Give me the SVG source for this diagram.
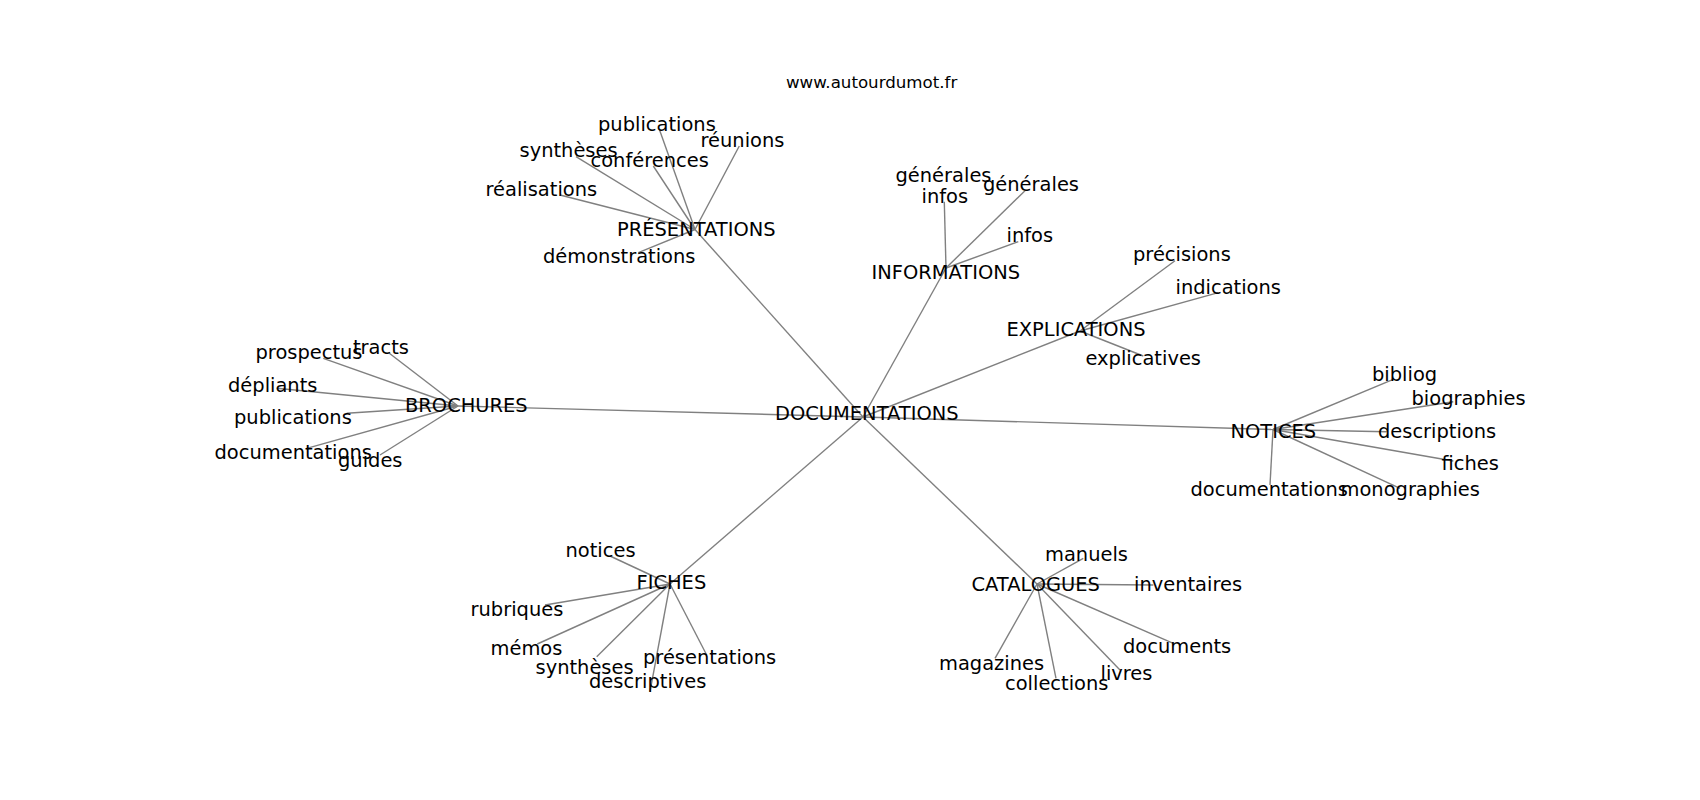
<svg xmlns="http://www.w3.org/2000/svg" width="1700" height="800" viewBox="0 0 1700 800">
<style>
text{font-family:"DejaVu Sans","Liberation Sans",sans-serif;fill:#000;font-size:19.44px}
.t{font-size:16.67px}
#edges line{stroke:#808080;stroke-width:1.4}
</style>
<rect width="1700" height="800" fill="#fff"/>
<text class="t" x="786" y="87.8">www.autourdumot.fr</text>
<g id="edges">
<line x1="863" y1="417" x2="695" y2="229.5"/>
<line x1="863" y1="417" x2="946" y2="268"/>
<line x1="863" y1="417" x2="1080" y2="331"/>
<line x1="863" y1="417" x2="458" y2="406"/>
<line x1="863" y1="417" x2="1273" y2="429.5"/>
<line x1="863" y1="417" x2="670" y2="584"/>
<line x1="863" y1="417" x2="1037" y2="584"/>
<line x1="695" y1="229.5" x2="659.3" y2="129.3"/>
<line x1="695" y1="229.5" x2="739.3" y2="146"/>
<line x1="695" y1="229.5" x2="576" y2="156.7"/>
<line x1="695" y1="229.5" x2="653.3" y2="166"/>
<line x1="695" y1="229.5" x2="560" y2="195"/>
<line x1="695" y1="229.5" x2="638.3" y2="252.7"/>
<line x1="946" y1="268" x2="944.3" y2="201.7"/>
<line x1="946" y1="268" x2="1025" y2="190.7"/>
<line x1="946" y1="268" x2="1018.3" y2="241.7"/>
<line x1="1080" y1="331" x2="1175" y2="260.7"/>
<line x1="1080" y1="331" x2="1218.3" y2="292.7"/>
<line x1="1080" y1="331" x2="1143.3" y2="356"/>
<line x1="458" y1="406" x2="389.3" y2="353.3"/>
<line x1="458" y1="406" x2="323.3" y2="358.3"/>
<line x1="458" y1="406" x2="276.7" y2="388.3"/>
<line x1="458" y1="406" x2="346.7" y2="413.3"/>
<line x1="458" y1="406" x2="306.7" y2="448.3"/>
<line x1="458" y1="406" x2="380" y2="455"/>
<line x1="1273" y1="429.5" x2="1393.3" y2="379.3"/>
<line x1="1273" y1="429.5" x2="1453.3" y2="401.7"/>
<line x1="1273" y1="429.5" x2="1386.7" y2="431.7"/>
<line x1="1273" y1="429.5" x2="1453.3" y2="461"/>
<line x1="1273" y1="429.5" x2="1400" y2="488.3"/>
<line x1="1273" y1="429.5" x2="1270" y2="485"/>
<line x1="670" y1="584" x2="610" y2="556"/>
<line x1="670" y1="584" x2="545" y2="605"/>
<line x1="670" y1="584" x2="537.3" y2="644"/>
<line x1="670" y1="584" x2="596.7" y2="656.7"/>
<line x1="670" y1="584" x2="650" y2="691.7"/>
<line x1="670" y1="584" x2="706.7" y2="655"/>
<line x1="1037" y1="584" x2="1083.3" y2="558.3"/>
<line x1="1037" y1="584" x2="1153.3" y2="585"/>
<line x1="1037" y1="584" x2="1173.3" y2="643.3"/>
<line x1="1037" y1="584" x2="1120" y2="670"/>
<line x1="1037" y1="584" x2="1056" y2="678.3"/>
<line x1="1037" y1="584" x2="995" y2="658.3"/>
</g>
<g id="n-documentations"><text x="775" y="420">DOCUMENTATIONS</text></g>
<g id="n-presentations"><text x="617" y="235.5">PRÉSENTATIONS</text></g>
<g id="n-pres-publications"><text x="598" y="130.5">publications</text></g>
<g id="n-pres-reunions"><text x="700.5" y="147.3">réunions</text></g>
<g id="n-pres-syntheses"><text x="519.5" y="156.7">synthèses</text></g>
<g id="n-pres-conferences"><text x="590.5" y="166.7">conférences</text></g>
<g id="n-pres-realisations"><text x="485.5" y="196">réalisations</text></g>
<g id="n-pres-demonstrations"><text x="543" y="263.2">démonstrations</text></g>
<g id="n-informations"><text x="871.5" y="279">INFORMATIONS</text></g>
<g id="n-info-generales-infos"><text x="895.5" y="181.5">générales</text><text x="921.5" y="203">infos</text></g>
<g id="n-info-generales"><text x="983" y="191">générales</text></g>
<g id="n-info-infos"><text x="1006.5" y="242">infos</text></g>
<g id="n-explications"><text x="1006.5" y="336">EXPLICATIONS</text></g>
<g id="n-expl-precisions"><text x="1133" y="261">précisions</text></g>
<g id="n-expl-indications"><text x="1175.5" y="294.3">indications</text></g>
<g id="n-expl-explicatives"><text x="1085.5" y="365.3">explicatives</text></g>
<g id="n-brochures"><text x="405" y="412.3">BROCHURES</text></g>
<g id="n-bro-prospectus"><text x="255.5" y="359.3">prospectus</text></g>
<g id="n-bro-tracts"><text x="353" y="353.8">tracts</text></g>
<g id="n-bro-depliants"><text x="228" y="392">dépliants</text></g>
<g id="n-bro-publications"><text x="234" y="423.5">publications</text></g>
<g id="n-bro-documentations"><text x="214.5" y="458.8">documentations</text></g>
<g id="n-bro-guides"><text x="338" y="467">guides</text></g>
<g id="n-notices"><text x="1230.5" y="437.8">NOTICES</text></g>
<g id="n-not-bibliog"><text x="1372" y="380.7">bibliog</text></g>
<g id="n-not-biographies"><text x="1411.5" y="405">biographies</text></g>
<g id="n-not-descriptions"><text x="1378" y="438">descriptions</text></g>
<g id="n-not-fiches"><text x="1441.5" y="470">fiches</text></g>
<g id="n-not-documentations"><text x="1190.5" y="496">documentations</text></g>
<g id="n-not-monographies"><text x="1340.5" y="495.5">monographies</text></g>
<g id="n-fiches"><text x="636.5" y="589">FICHES</text></g>
<g id="n-fic-notices"><text x="565.5" y="556.7">notices</text></g>
<g id="n-fic-rubriques"><text x="470.5" y="616.3">rubriques</text></g>
<g id="n-fic-memos"><text x="490.5" y="655.3">mémos</text></g>
<g id="n-fic-syntheses"><text x="535.5" y="673.5">synthèses</text></g>
<g id="n-fic-presentations"><text x="643" y="664.3">présentations</text></g>
<g id="n-fic-descriptives"><text x="589" y="688.3">descriptives</text></g>
<g id="n-catalogues"><text x="971.5" y="591.3">CATALOGUES</text></g>
<g id="n-cat-manuels"><text x="1045" y="561">manuels</text></g>
<g id="n-cat-inventaires"><text x="1134" y="591.3">inventaires</text></g>
<g id="n-cat-documents"><text x="1123" y="653">documents</text></g>
<g id="n-cat-magazines"><text x="939" y="670.3">magazines</text></g>
<g id="n-cat-livres"><text x="1100.5" y="679.5">livres</text></g>
<g id="n-cat-collections"><text x="1005" y="690.3">collections</text></g>
</svg>
